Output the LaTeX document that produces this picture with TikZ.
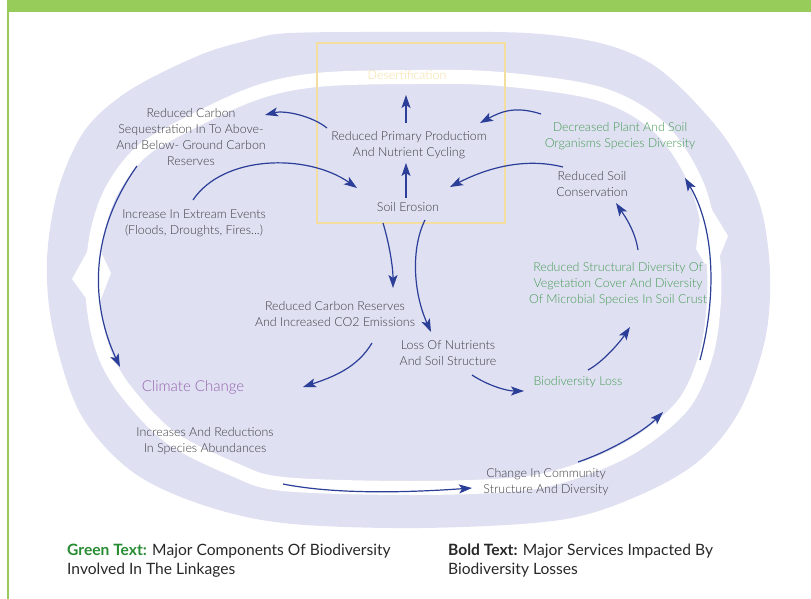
\documentclass[tikz,border=0pt]{standalone}
\usepackage{fontspec}
\setmainfont{Lato Light}[BoldFont={Lato Bold}]
\newfontfamily\legfont{Lato}
\usetikzlibrary{arrows.meta}
\definecolor{lav}{RGB}{223,224,241}
\definecolor{barg}{RGB}{151,203,90}
\definecolor{arrb}{RGB}{43,62,152}
\definecolor{txtg}{RGB}{62,62,68}
\definecolor{grn}{RGB}{70,155,85}
\definecolor{dgrn}{RGB}{40,140,50}
\definecolor{purp}{RGB}{150,100,175}
\definecolor{yel}{RGB}{243,222,160}
\definecolor{legc}{RGB}{40,40,40}
\begin{document}
\begin{tikzpicture}[x=1pt,y=-1pt,
  lbl/.style={align=center,text=txtg,font=\fontsize{12.4}{16}\selectfont,inner sep=1pt},
  glbl/.style={lbl,text=grn},
  arr/.style={draw=arrb,line width=1.2pt,-{Stealth[length=13pt,width=9pt,inset=3pt]}},
  leg/.style={anchor=west,align=left,text=legc,font=\legfont\fontsize{15.6}{19}\selectfont,inner sep=0pt}
]
\useasboundingbox (0,0) rectangle (811,599);
% frame
\fill[barg] (7,0) rectangle (811,12);
\fill[barg] (7,12) rectangle (8.5,599);
% lavender shape
\fill[lav] plot[smooth cycle,tension=0.55] coordinates {
 (290,33) (410,32) (527,33) (600,43) (650,63) (690,97) (730,145) (760,205)
 (770,273) (765,340) (740,410) (700,460) (640,495) (560,520) (420,528)
 (283,523) (197,503) (130,470) (80,413) (53,330) (47,260) (58,190)
 (85,130) (130,90) (200,55) (250,40)};
% white band
\draw[white,line width=14pt] plot[smooth cycle,tension=0.55] coordinates {
 (417,77) (500,79) (600,94) (660,128) (697,185) (712,250) (714,300)
 (706,355) (683,405) (635,445) (580,470) (520,484) (413,488) (283,484)
 (233,469) (170,437) (125,390) (103,350) (93,300) (95,245) (108,198)
 (133,160) (165,136) (250,95) (317,80)};
\fill[white] (87,252) -- (72,279) -- (96,312) -- (111,273) -- (101,252) -- cycle;
\fill[white] (705,264) -- (696,249) -- (703,195) -- (728,236) -- (719,258) -- cycle;
% yellow box
\draw[yel,line width=2.5pt] (317,43) rectangle (505,223);
% nodes
\node[lbl,text=yel] (des) at (407,75) {Desertification};
\node[lbl] (rpp) at (409,145) {Reduced Primary Productiom\\And Nutrient Cycling};
\node[lbl] (ero) at (408,207) {Soil Erosion};
\node[glbl] (dpl) at (620,136) {Decreased Plant And Soil\\Organisms Species Diversity};
\node[lbl] (rsc) at (592,184) {Reduced Soil\\Conservation};
\node[lbl] (rcs) at (191,137) {Reduced Carbon\\Sequestration In To Above-\\And Below- Ground Carbon\\Reserves};
\node[lbl] (iee) at (194,223) {Increase In Extream Events\\(Floods, Droughts, Fires...)};
\node[glbl] (rsd) at (618,284) {Reduced Structural Diversity Of\\Vegetation Cover And Diversity\\Of Microbial Species In Soil Crust};
\node[lbl] (rcr) at (335,314) {Reduced Carbon Reserves\\And Increased CO2 Emissions};
\node[lbl] (lon) at (448,353) {Loss Of Nutrients\\And Soil Structure};
\node[glbl] (bdl) at (578,382) {Biodiversity Loss};
\node[lbl,text=purp,font=\fontsize{15}{16}\selectfont] (clc) at (193,387) {Climate Change};
\node[lbl] (iar) at (205,441) {Increases And Reductions\\In Species Abundances};
\node[lbl] (cic) at (546,482) {Change In Community\\Structure And Diversity};
\coordinate (t15) at (663,412);
\coordinate (s16) at (700,360);
% arrows
\draw[arr] ([shift={(-2,-9)}]ero.center) -- ([shift={(-3,18)}]rpp.center);
\draw[arr] ([shift={(-3,-22)}]rpp.center) -- ([shift={(-1,20)}]des.center);
\draw[arr] ([shift={(-79,-22)}]dpl.center) .. controls +(-25,-8) and +(22,-12) .. ([shift={(71,-22)}]rpp.center);
\draw[arr] ([shift={(-29,-17)}]rsc.center) .. controls +(-40,-10) and +(35,-18) .. ([shift={(42,-20)}]ero.center);
\draw[arr] ([shift={(-82,-17)}]rpp.center) .. controls +(-15,-12) and +(20,-5) .. ([shift={(74,-22)}]rcs.center);
\draw[arr] ([shift={(-1,-23)}]iee.center) .. controls +(30,-45) and +(-50,-35) .. ([shift={(-51,-19)}]ero.center);
\draw[arr] ([shift={(-25,16)}]ero.center) .. controls +(6,20) and +(0,-22) .. ([shift={(58,-26)}]rcr.center);
\draw[arr] ([shift={(17,13)}]ero.center) .. controls +(-14,28) and +(-18,-40) .. ([shift={(-17,-21)}]lon.center);
\draw[arr] ([shift={(37,29)}]rcr.center) .. controls +(-15,25) and +(30,-10) .. ([shift={(110,0)}]clc.center);
\draw[arr] ([shift={(24,22)}]lon.center) .. controls +(15,10) and +(-18,0) .. ([shift={(-54,9)}]bdl.center);
\draw[arr] ([shift={(10,-12)}]bdl.center) .. controls +(15,-8) and +(-10,15) .. ([shift={(12,43)}]rsd.center);
\draw[arr] ([shift={(20,-34)}]rsd.center) .. controls +(-3,-20) and +(8,12) .. ([shift={(24,19)}]rsc.center);
\draw[arr] ([shift={(-54,29)}]rcs.center) .. controls +(-50,70) and +(-28,-60) .. ([shift={(-73,-20)}]clc.center);
\draw[arr] ([shift={(78,43)}]iar.center) .. controls +(50,10) and +(-70,5) .. ([shift={(-74,6)}]cic.center);
\draw[arr] ([shift={(32,-20)}]cic.center) .. controls +(30,-10) and +(-20,20) .. (t15);
\draw[arr] (s16) .. controls +(16,-60) and +(31,52) .. ([shift={(65,42)}]dpl.center);
% legend
\node[leg] (lg1) at (67,561) {\textcolor{dgrn}{\textbf{Green Text:}} Major Components Of Biodiversity\\Involved In The Linkages};
\node[leg] (lg2) at (448,561) {\textbf{Bold Text:} Major Services Impacted By\\Biodiversity Losses};
\end{tikzpicture}
\end{document}
